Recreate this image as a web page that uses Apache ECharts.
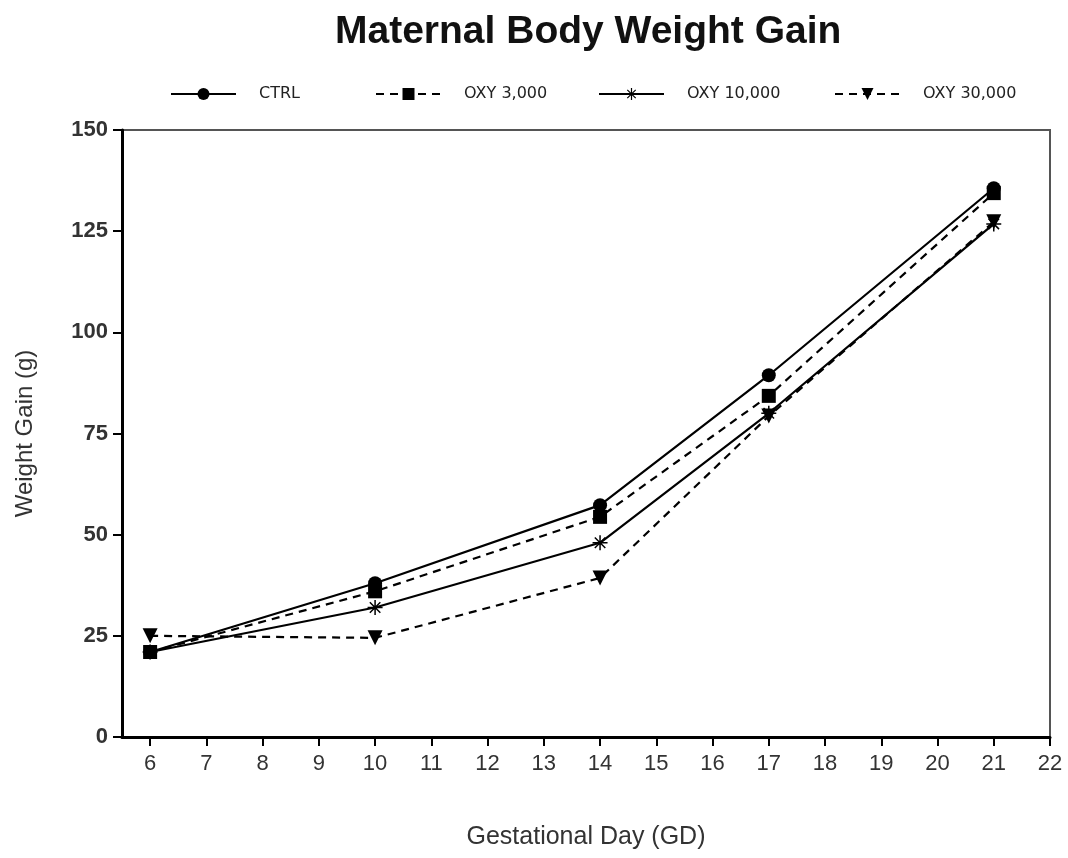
<!DOCTYPE html>
<html>
<head>
<meta charset="utf-8">
<script src="https://cdn.jsdelivr.net/npm/echarts@6/dist/echarts.min.js"></script>
<style>
  html, body { margin: 0; padding: 0; background: #fff; }
  #chart { width: 1068px; height: 858px; }
</style>
</head>
<body>
<div id="chart"></div>
<script>
// gestational days
const days = [6, 10, 14, 17, 21];
const xTicks = [6, 7, 8, 9, 10, 11, 12, 13, 14, 15, 16, 17, 18, 19, 20, 21, 22];

// weight gain (g)
const ctrl = [21, 38, 57.3, 89.4, 135.6];
const oxy3000 = [21, 36, 54.4, 84.3, 134.4];
const oxy10000 = [21, 32, 48, 80, 126.8];
const oxy30000 = [25, 24.5, 39.3, 79.3, 127.3];

const names = ['CTRL', 'OXY 3,000', 'OXY 10,000', 'OXY 30,000'];

// asterisk marker
const asterisk = 'path://M9 0L11 0L11 20L9 20Z M0 9L20 9L20 11L0 11Z ' +
  'M2.3 3.7L3.7 2.3L17.7 16.3L16.3 17.7Z M16.3 2.3L17.7 3.7L3.7 17.7L2.3 16.3Z';

function pairs (ys) {
  return days.map((d, i) => [d, ys[i]]);
}

function lineSeries (name, ys, dashed, symbol, size, rotate) {
  return {
    name: name,
    type: 'line',
    data: pairs(ys),
    symbol: symbol,
    symbolSize: size,
    symbolRotate: rotate || 0,
    showAllSymbol: true,
    color: '#000',
    lineStyle: {
      color: '#000',
      width: 2.2,
      type: dashed ? [8, 6] : 'solid'
    },
    itemStyle: { color: '#000' },
    z: 3
  };
}

function legendAt (name, left) {
  return {
    data: [name],
    left: left,
    top: 86,
    padding: 0,
    itemWidth: 65,
    itemHeight: 15,
    itemGap: 0,
    textStyle: {
      fontFamily: 'DejaVu Sans',
      fontSize: 16,
      color: '#222',
      padding: [0, 0, 0, 18]
    }
  };
}

let myChart = echarts.init(document.getElementById('chart'));
myChart.setOption({
  backgroundColor: '#fff',
  animation: false,
  title: {
    text: 'Maternal Body Weight Gain',
    left: 330,
    top: 8,
    textStyle: {
      fontFamily: 'Liberation Sans',
      fontWeight: 'bold',
      fontSize: 39,
      color: '#111'
    }
  },
  legend: [
    legendAt('CTRL', 170),
    legendAt('OXY 3,000', 375),
    legendAt('OXY 10,000', 598),
    legendAt('OXY 30,000', 834)
  ],
  grid: {
    left: 122,
    right: 18,
    top: 130,
    bottom: 121,
    outerBoundsMode: 'none',
    show: true,
    borderColor: '#555',
    borderWidth: 2,
    backgroundColor: '#fff'
  },
  xAxis: {
    type: 'value',
    min: 5.5,
    max: 22,
    name: 'Gestational Day (GD)',
    nameLocation: 'middle',
    nameGap: 88,
    nameTextStyle: {
      fontFamily: 'Liberation Sans',
      fontSize: 25,
      color: '#333'
    },
    splitLine: { show: false },
    axisLine: {
      onZero: false,
      lineStyle: { color: '#000', width: 3 }
    },
    axisTick: {
      show: true,
      customValues: xTicks,
      length: 9,
      lineStyle: { color: '#000', width: 2 }
    },
    axisLabel: {
      customValues: xTicks,
      margin: 16,
      fontFamily: 'Liberation Sans',
      fontSize: 22,
      color: '#333'
    }
  },
  yAxis: {
    type: 'value',
    min: 0,
    max: 150,
    interval: 25,
    name: 'Weight Gain (g)',
    nameLocation: 'middle',
    nameGap: 85,
    nameTextStyle: {
      fontFamily: 'Liberation Sans',
      fontSize: 24,
      color: '#333'
    },
    splitLine: { show: false },
    axisLine: {
      show: true,
      lineStyle: { color: '#000', width: 3 }
    },
    axisTick: {
      show: true,
      length: 9,
      lineStyle: { color: '#000', width: 2 }
    },
    axisLabel: {
      margin: 14,
      fontFamily: 'Liberation Sans',
      fontWeight: 'bold',
      fontSize: 22,
      color: '#333'
    }
  },
  series: [
    lineSeries(names[0], ctrl, false, 'circle', 14),
    lineSeries(names[1], oxy3000, true, 'rect', 14),
    lineSeries(names[2], oxy10000, false, asterisk, 15),
    lineSeries(names[3], oxy30000, true, 'triangle', 15, 180)
  ]
});
window.addEventListener('resize', () => {
  myChart.resize();
});
</script>
</body>
</html>
